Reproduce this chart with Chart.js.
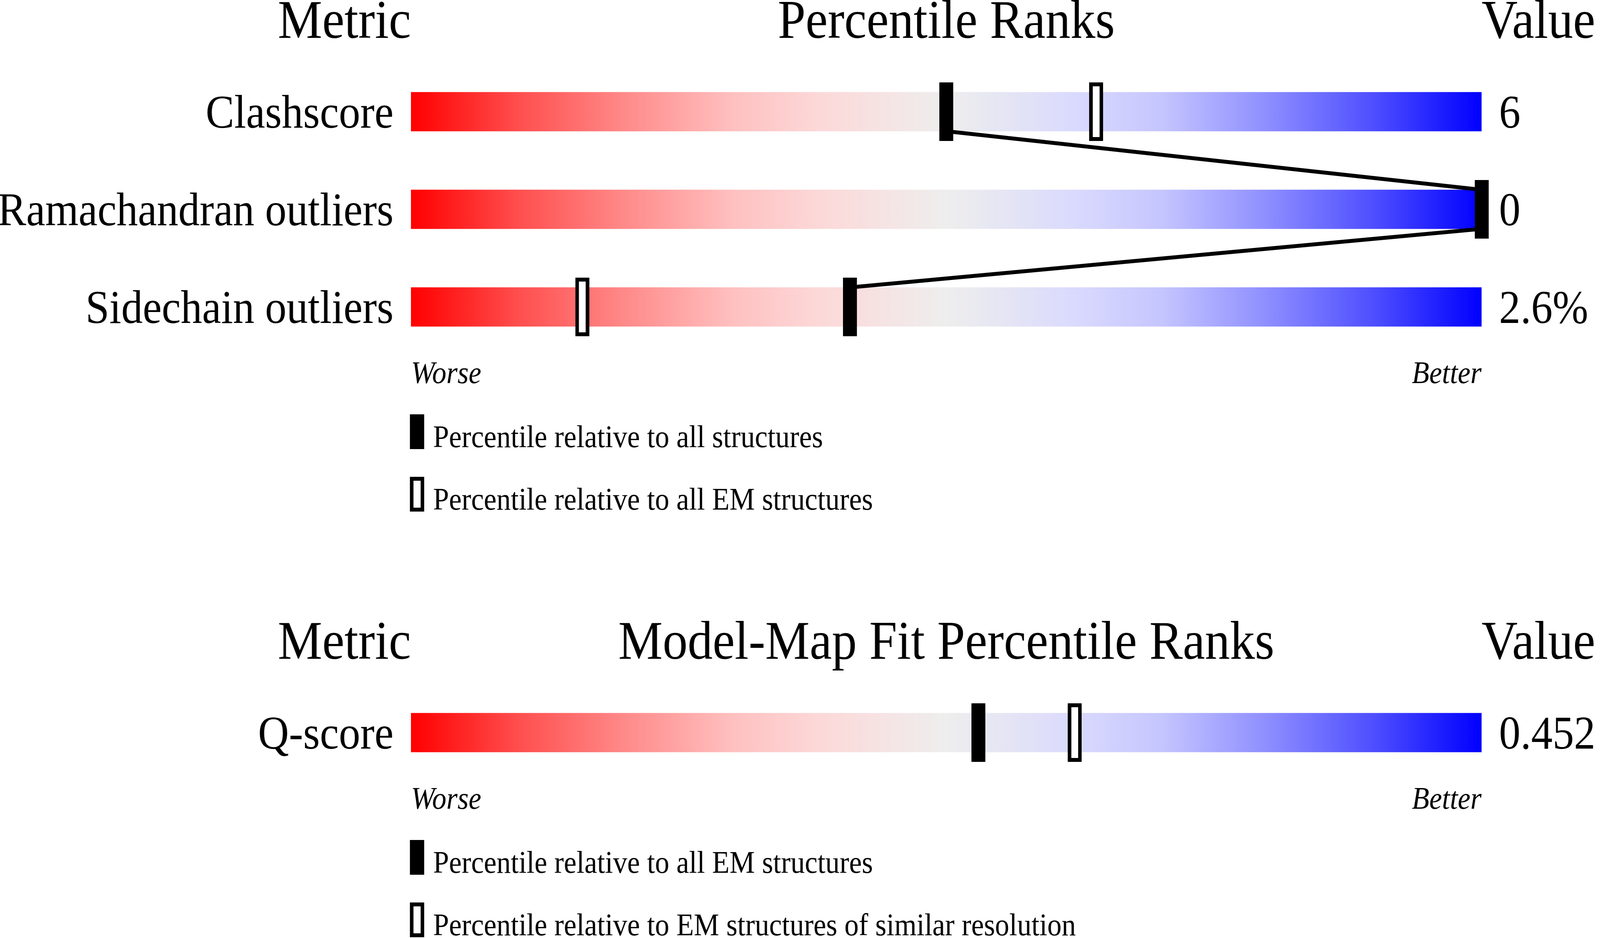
<!DOCTYPE html>
<html>
<head>
<meta charset="utf-8">
<script src="https://cdn.jsdelivr.net/npm/chart.js@4/dist/chart.umd.min.js"></script>
<style>
html, body { margin: 0; padding: 0; background: #ffffff; overflow: hidden; }
body { position: relative; }
canvas { position: absolute; left: 0; }
</style>
</head>
<body>
<canvas id="c1" width="4485" height="1590"></canvas>
<canvas id="c2" width="4485" height="812"></canvas>
<script>
// ---------------- data ----------------
const headers1 = ['Metric', 'Percentile Ranks', 'Value'];
const metrics1 = ['Clashscore', 'Ramachandran outliers', 'Sidechain outliers'];
const values1 = ['6', '0', '2.6%'];
const pctAllStructures = [50, 100, 41];
const pctAllEM = [64, 100, 16];
const legend1 = ['Percentile relative to all structures', 'Percentile relative to all EM structures'];

const headers2 = ['Metric', 'Model-Map Fit Percentile Ranks', 'Value'];
const metrics2 = ['Q-score'];
const values2 = ['0.452'];
const pctQAllEM = [53];
const pctQSimilarRes = [62];
const legend2 = ['Percentile relative to all EM structures', 'Percentile relative to EM structures of similar resolution'];

const axisEnds = ['Worse', 'Better'];
const pctMin = 0;
const pctMax = 100;

// ---------------- page fitting (design size 4485 x 2402) ----------------
const DESIGN_W = 4485, DESIGN_H = 2402;
const vw = window.innerWidth || DESIGN_W;
const vh = window.innerHeight || DESIGN_H;
const sx = vw / DESIGN_W, sy = vh / DESIGN_H;
document.body.style.width = vw + 'px';
document.body.style.height = vh + 'px';
(function placeCanvases() {
  let top = 0;
  ['c1', 'c2'].forEach(id => {
    const c = document.getElementById(id);
    c.style.top = (top * sy) + 'px';
    c.style.width = (c.width * sx) + 'px';
    c.style.height = (c.height * sy) + 'px';
    top += c.height;
  });
})();

// ---------------- styling ----------------
const FONT = "'Liberation Serif', 'Times New Roman', serif";
const gradientStops = [
  [0.00, 'rgb(255,0,0)'],
  [0.10, 'rgb(255,78,78)'],
  [0.20, 'rgb(255,138,138)'],
  [0.30, 'rgb(255,192,192)'],
  [0.38, 'rgb(253,216,216)'],
  [0.45, 'rgb(245,229,229)'],
  [0.50, 'rgb(238,238,238)'],
  [0.55, 'rgb(230,230,244)'],
  [0.62, 'rgb(218,218,254)'],
  [0.70, 'rgb(198,198,255)'],
  [0.80, 'rgb(142,142,255)'],
  [0.90, 'rgb(78,78,255)'],
  [1.00, 'rgb(0,0,255)']
];

function markerImage(w, h, border, filled) {
  const c = document.createElement('canvas');
  c.width = w; c.height = h;
  const g = c.getContext('2d');
  g.fillStyle = '#000';
  g.fillRect(0, 0, w, h);
  if (!filled) {
    g.fillStyle = '#fff';
    g.fillRect(border, border, w - 2 * border, h - 2 * border);
  }
  return c;
}
const MARK_FILLED = markerImage(39, 150, 10, true);
const MARK_OPEN = markerImage(39, 150, 10, false);
const LEG_FILLED = markerImage(40, 89, 10, true);
const LEG_OPEN = markerImage(40, 89, 10, false);

function gradientFill(ctx) {
  const chart = ctx.chart;
  const a = chart.chartArea;
  if (!a) return '#eeeeee';
  const g = chart.ctx.createLinearGradient(a.left, 0, a.right, 0);
  gradientStops.forEach(s => g.addColorStop(s[0], s[1]));
  return g;
}

function makeSliderPlugin(spec) {
  return {
    id: 'slider',
    afterDatasetDraw(chart, args) {
      if (args.index !== 0) return;
      const meta = chart.getDatasetMeta(0);
      const xs = chart.scales.x;
      const ctx = chart.ctx;
      ctx.save();
      ctx.strokeStyle = '#000';
      ctx.lineWidth = 10;
      for (let i = 0; i < spec.first.length - 1; i++) {
        const a = meta.data[i], b = meta.data[i + 1];
        ctx.beginPath();
        ctx.moveTo(xs.getPixelForValue(spec.first[i]), a.y + a.height / 2);
        ctx.lineTo(xs.getPixelForValue(spec.first[i + 1]), b.y - b.height / 2);
        ctx.stroke();
      }
      ctx.restore();
    },
    afterDraw(chart) {
      const ctx = chart.ctx, ca = chart.chartArea;
      ctx.save();
      ctx.fillStyle = '#000';
      ctx.textBaseline = 'alphabetic';
      ctx.font = '140px ' + FONT;
      const hy = ca.top - 64;
      ctx.textAlign = 'right';
      ctx.fillText(spec.headers[0], ca.left, hy);
      ctx.textAlign = 'center';
      ctx.fillText(spec.headers[1], (ca.left + ca.right) / 2, hy);
      ctx.textAlign = 'left';
      ctx.fillText(spec.headers[2], ca.right, hy);

      const meta = chart.getDatasetMeta(0);
      const last = meta.data[meta.data.length - 1];
      const base = last.y + last.height / 2;
      ctx.font = '80px ' + FONT;
      spec.legend.forEach((t, i) => {
        const by = Math.round(base + 309 + i * 160);
        ctx.drawImage(i === 0 ? LEG_FILLED : LEG_OPEN, Math.round(ca.left - 3), by - 84);
        ctx.fillText(t, ca.left + 62, by);
      });
      ctx.restore();
    }
  };
}

function buildSlider(canvasId, spec) {
  const canvas = document.getElementById(canvasId);
  const n = spec.metrics.length;
  const H = canvas.height;
  const bandTop = 161, band = 250, xAxisH = 120;
  const bottomPad = H - (bandTop + band * n) - xAxisH;
  const tickFont = { family: FONT, size: 120 };
  return new Chart(canvas, {
    type: 'bar',
    data: {
      labels: spec.metrics,
      datasets: [
        {
          type: 'bar',
          data: spec.metrics.map(() => [pctMin, pctMax]),
          backgroundColor: gradientFill,
          borderWidth: 0,
          barThickness: 100,
          xAxisID: 'x', yAxisID: 'y',
          order: 3
        },
        {
          type: 'scatter',
          data: spec.metrics.map((m, i) => ({ x: spec.second[i], y: m })),
          pointStyle: MARK_OPEN,
          pointRadius: 10,
          clip: false,
          xAxisID: 'x', yAxisID: 'y',
          order: 2
        },
        {
          type: 'scatter',
          data: spec.metrics.map((m, i) => ({ x: spec.first[i], y: m })),
          pointStyle: MARK_FILLED,
          pointRadius: 10,
          clip: false,
          xAxisID: 'x', yAxisID: 'y',
          order: 1
        }
      ]
    },
    options: {
      indexAxis: 'y',
      responsive: false,
      devicePixelRatio: 1,
      animation: false,
      events: [],
      layout: { padding: { top: bandTop, bottom: bottomPad, left: 0, right: 0 } },
      plugins: { legend: { display: false }, tooltip: { enabled: false } },
      scales: {
        x: {
          type: 'linear', min: pctMin, max: pctMax, position: 'bottom',
          grid: { display: false, drawTicks: false }, border: { display: false },
          ticks: {
            stepSize: pctMax - pctMin, align: 'inner', padding: 1, color: '#000',
            maxRotation: 0, autoSkip: false,
            font: { family: FONT, size: 80, style: 'italic' },
            callback: (v, i) => axisEnds[i]
          },
          afterFit: s => { s.height = xAxisH; }
        },
        y: {
          type: 'category', labels: spec.metrics, position: 'left', offset: true,
          grid: { display: false, drawTicks: false }, border: { display: false },
          ticks: { padding: 49, labelOffset: 9, color: '#000', autoSkip: false, font: tickFont },
          afterFit: s => { s.width = 1152; }
        },
        y2: {
          type: 'category', labels: spec.values, position: 'right', offset: true,
          grid: { display: false, drawTicks: false }, border: { display: false },
          ticks: { padding: 49, labelOffset: 9, color: '#000', autoSkip: false, font: tickFont },
          afterFit: s => { s.width = 332; }
        }
      }
    },
    plugins: [makeSliderPlugin(spec)]
  });
}

buildSlider('c1', {
  headers: headers1, metrics: metrics1, values: values1,
  first: pctAllStructures, second: pctAllEM, legend: legend1
});
buildSlider('c2', {
  headers: headers2, metrics: metrics2, values: values2,
  first: pctQAllEM, second: pctQSimilarRes, legend: legend2
});
</script>
</body>
</html>
